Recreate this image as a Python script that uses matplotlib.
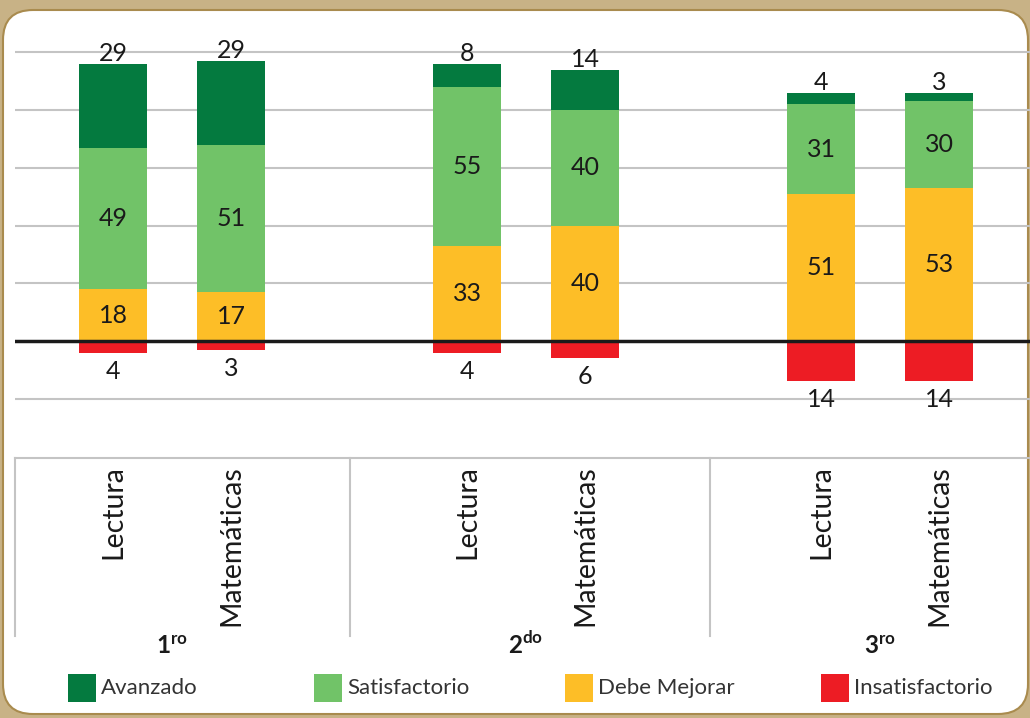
import matplotlib
matplotlib.use("Agg")
import matplotlib.pyplot as plt
from matplotlib.patches import FancyBboxPatch, Rectangle
from matplotlib.transforms import IdentityTransform, blended_transform_factory
import numpy as np

plt.rcParams['font.family'] = ['Lato', 'DejaVu Sans']
plt.rcParams['mathtext.fontset'] = 'custom'
plt.rcParams['mathtext.rm'] = 'Lato'
plt.rcParams['mathtext.bf'] = 'Lato:bold'

# ---------------- data ----------------
groups = ["1ro", "2do", "3ro"]
subjects = ["Lectura", "Matemáticas", "Lectura", "Matemáticas", "Lectura", "Matemáticas"]
series_names = ["Avanzado", "Satisfactorio", "Debe Mejorar", "Insatisfactorio"]
insatisfactorio = [4, 3, 4, 6, 14, 14]
debe_mejorar = [18, 17, 33, 40, 51, 53]
satisfactorio = [49, 51, 55, 40, 31, 30]
avanzado = [29, 29, 8, 14, 4, 3]

colors = {"Avanzado": "#047A3F", "Satisfactorio": "#71C368",
          "Debe Mejorar": "#FDBE27", "Insatisfactorio": "#ED1C24"}

W, H = 1030, 718
fig = plt.figure(figsize=(W / 100, H / 100), dpi=100, facecolor="#C8B286")

# white rounded panel (pixel coordinates)
panel = FancyBboxPatch((3, 4), 1025, H - 10 - 4,
                       boxstyle="round,pad=0,rounding_size=30",
                       transform=IdentityTransform(), facecolor="white",
                       edgecolor="#A98B4E", linewidth=1.5, zorder=0)
fig.add_artist(panel)

ax = fig.add_axes([15 / W, (H - 458) / H, 1015 / W, 448 / H])
ax.set_facecolor("none")

x = np.array([0, 1, 3, 4, 6, 7], dtype=float)
bw = 68 / 118

neg = -np.array(insatisfactorio)
dm = np.array(debe_mejorar)
sat = np.array(satisfactorio)
av = np.array(avanzado)

ax.bar(x, neg, bw, color=colors["Insatisfactorio"], zorder=3)
ax.bar(x, dm, bw, color=colors["Debe Mejorar"], zorder=3)
ax.bar(x, sat, bw, bottom=dm, color=colors["Satisfactorio"], zorder=3)
ax.bar(x, av, bw, bottom=dm + sat, color=colors["Avanzado"], zorder=3)

txtc = "#1a1a1a"
fs = 18
for i in range(len(x)):
    ax.text(x[i], dm[i] / 2, str(dm[i]), ha="center", va="center",
            fontsize=fs, color=txtc, zorder=4)
    ax.text(x[i], dm[i] + sat[i] / 2, str(sat[i]), ha="center", va="center",
            fontsize=fs, color=txtc, zorder=4)
    ax.annotate(str(av[i]), (x[i], dm[i] + sat[i] + av[i]), xytext=(0, 3),
                textcoords="offset pixels", ha="center", va="baseline",
                fontsize=fs, color=txtc, zorder=4)
    ax.annotate(str(insatisfactorio[i]), (x[i], neg[i]), xytext=(0, -26),
                textcoords="offset pixels", ha="center", va="baseline",
                fontsize=fs, color=txtc, zorder=4)

ax.set_xlim(-0.83, 7.77)
ax.set_ylim(-40.55, 114.7)
ax.set_yticks([-20, 20, 40, 60, 80, 100])
ax.yaxis.grid(True, color="#C4C4C4", linewidth=1.5, zorder=1)
ax.set_axisbelow(True)
ax.tick_params(axis="y", length=0, labelleft=False)
ax.axhline(0, color="#1a1a1a", linewidth=2.5, zorder=5)

for s in ["top", "right", "left"]:
    ax.spines[s].set_visible(False)
ax.spines["bottom"].set_color("#C4C4C4")
ax.spines["bottom"].set_linewidth(1.5)

ax.set_xticks(x)
ax.set_xticklabels(subjects, rotation=90, fontsize=20.5, color=txtc, va="top")
ax.tick_params(axis="x", length=0, pad=5)

# group separators and group labels
trans = blended_transform_factory(ax.transData, ax.transAxes)
depth = (636 - 458) / 448
for sx in [-0.83, 2.008, 5.06, 8.03]:
    ax.plot([sx, sx], [0, -depth], transform=trans, color="#C4C4C4",
            linewidth=1.5, clip_on=False)

group_centers = [0.5, 3.5, 6.5]
for gc, g in zip(group_centers, groups):
    num, sup = g[0], g[1:]
    ax.text(gc, -(654 - 458) / 448, r"$\mathbf{" + num + r"}^{\mathbf{" + sup + r"}}$",
            transform=trans, ha="center", va="baseline", fontsize=17.5, color=txtc)

# legend
leg_x = [68, 314, 565, 821]
for lx, name in zip(leg_x, series_names):
    fig.add_artist(Rectangle((lx, H - 702), 28, 28, transform=IdentityTransform(),
                             facecolor=colors[name], edgecolor="none"))
    fig.text((lx + 33) / W, (H - 688) / H, name, ha="left", va="center",
             fontsize=16, color="#333333")

fig.savefig("out.png", dpi=100, facecolor=fig.get_facecolor())
